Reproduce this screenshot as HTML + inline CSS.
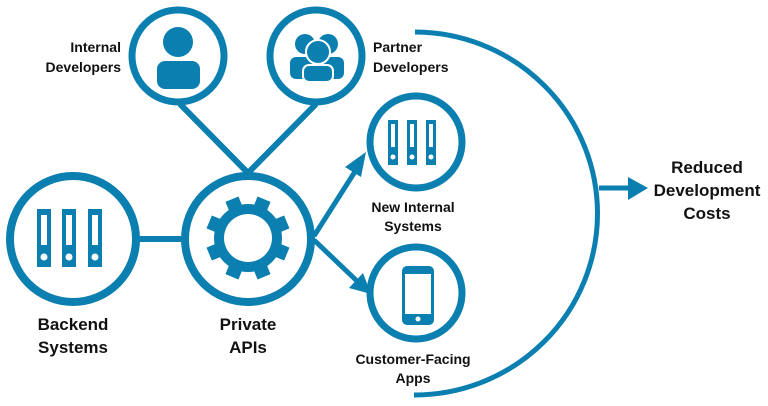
<!DOCTYPE html>
<html><head><meta charset="utf-8"><style>
html,body{margin:0;padding:0;background:#fff;}
svg{display:block}
text{font-family:"Liberation Sans",sans-serif;font-weight:bold;fill:#111;}
</style></head><body>
<svg width="768" height="406" viewBox="0 0 768 406" xmlns="http://www.w3.org/2000/svg">
<g fill="none" stroke="#0a7fb0">
  <!-- connectors -->
  <line x1="180" y1="104" x2="248" y2="173" stroke-width="6"/>
  <line x1="316" y1="104" x2="248" y2="173" stroke-width="6"/>
  <line x1="139" y1="239" x2="182" y2="239" stroke-width="6"/>
  <line x1="314" y1="236" x2="356" y2="170" stroke-width="5"/>
  <line x1="314" y1="240" x2="358" y2="282" stroke-width="5"/>
  <!-- big arc -->
  <path d="M415 32 A183 181.5 0 0 1 414 395" stroke-width="5"/>
  <line x1="599" y1="188" x2="632" y2="188" stroke-width="5"/>
  <!-- circles -->
  <circle cx="178" cy="56" r="46" stroke-width="7"/>
  <circle cx="316" cy="56" r="46" stroke-width="7"/>
  <circle cx="416" cy="142" r="46" stroke-width="7"/>
  <circle cx="416" cy="293" r="46" stroke-width="7"/>
  <circle cx="73" cy="239" r="63" stroke-width="8"/>
  <circle cx="248" cy="239" r="63" stroke-width="8"/>
</g>
<g fill="#0a7fb0">
  <!-- arrowheads -->
  <polygon points="366,152 345,167 361,177"/>
  <polygon points="371,294 349,288 363,273"/>
  <polygon points="648,188 628,177 628,200"/>
  <!-- person -->
  <circle cx="178" cy="42" r="15"/>
  <rect x="157" y="61" width="43" height="28" rx="8"/>
  <!-- group -->
  <circle cx="305" cy="44" r="10"/>
  <circle cx="328" cy="44" r="10"/>
  <rect x="290" y="57" width="26" height="22" rx="6"/>
  <rect x="318" y="57" width="26" height="22" rx="6"/>
  <circle cx="318" cy="52" r="12" stroke="#fff" stroke-width="2"/>
  <rect x="303" y="65" width="30" height="17" rx="6" stroke="#fff" stroke-width="2"/>
  <!-- backend binders -->
  <g>
    <rect x="37" y="209" width="14" height="58"/>
    <rect x="62" y="209" width="14" height="58"/>
    <rect x="88" y="209" width="14" height="58"/>
  </g>
  <g fill="#fff">
    <rect x="41" y="215" width="6" height="30"/>
    <rect x="66" y="215" width="6" height="30"/>
    <rect x="92" y="215" width="6" height="30"/>
    <circle cx="44" cy="257" r="3.5"/>
    <circle cx="69" cy="257" r="3.5"/>
    <circle cx="95" cy="257" r="3.5"/>
  </g>
  <!-- new internal binders -->
  <rect x="388" y="120" width="10" height="45"/>
  <rect x="407" y="120" width="10" height="45"/>
  <rect x="426" y="120" width="10" height="45"/>
  <g fill="#fff">
    <rect x="391" y="124" width="4" height="23"/>
    <rect x="410" y="124" width="4" height="23"/>
    <rect x="429" y="124" width="4" height="23"/>
    <circle cx="393" cy="157" r="2.5"/>
    <circle cx="412" cy="157" r="2.5"/>
    <circle cx="431" cy="157" r="2.5"/>
  </g>
  <!-- phone -->
  <rect x="402" y="266" width="32" height="59" rx="5"/>
  <rect x="405" y="274" width="26" height="40" fill="#fff"/>
  <circle cx="418" cy="319" r="2.5" fill="#fff"/>
  <!-- gear -->
  <g transform="translate(248,238)">
    <circle r="34"/>
    <g>
      <rect x="-7" y="-42" width="14" height="12" transform="rotate(22.5)"/>
      <rect x="-7" y="-42" width="14" height="12" transform="rotate(67.5)"/>
      <rect x="-7" y="-42" width="14" height="12" transform="rotate(112.5)"/>
      <rect x="-7" y="-42" width="14" height="12" transform="rotate(157.5)"/>
      <rect x="-7" y="-42" width="14" height="12" transform="rotate(202.5)"/>
      <rect x="-7" y="-42" width="14" height="12" transform="rotate(247.5)"/>
      <rect x="-7" y="-42" width="14" height="12" transform="rotate(292.5)"/>
      <rect x="-7" y="-42" width="14" height="12" transform="rotate(337.5)"/>
    </g>
    <circle r="24" fill="#fff"/>
  </g>
</g>
<!-- labels -->
<g font-size="14">
  <text x="121" y="52" text-anchor="end">Internal</text>
  <text x="121" y="72" text-anchor="end">Developers</text>
  <text x="373" y="52">Partner</text>
  <text x="373" y="72">Developers</text>
  <text x="413" y="212" text-anchor="middle">New Internal</text>
  <text x="413" y="231" text-anchor="middle">Systems</text>
  <text x="413" y="364" text-anchor="middle">Customer-Facing</text>
  <text x="413" y="383" text-anchor="middle">Apps</text>
</g>
<g font-size="17">
  <text x="73" y="330" text-anchor="middle">Backend</text>
  <text x="73" y="353" text-anchor="middle">Systems</text>
  <text x="248" y="330" text-anchor="middle">Private</text>
  <text x="248" y="353" text-anchor="middle">APIs</text>
  <text x="707" y="173" text-anchor="middle">Reduced</text>
  <text x="707" y="196" text-anchor="middle">Development</text>
  <text x="707" y="219" text-anchor="middle">Costs</text>
</g>
</svg>
</body></html>
